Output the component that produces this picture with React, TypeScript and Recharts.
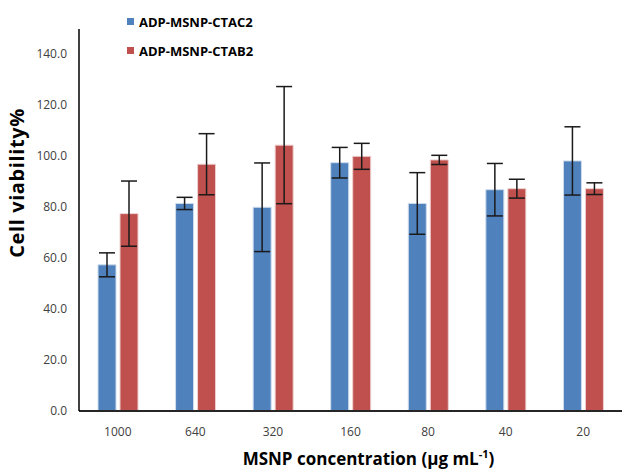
import React from 'react';
import { BarChart, Bar, XAxis, YAxis, ErrorBar, Legend, Label } from 'recharts';

const concentrations = ['1000', '640', '320', '160', '80', '40', '20'];
const ctac2 = [57.4, 81.5, 80.0, 97.5, 81.5, 86.9, 98.2];
const ctac2Err = [4.7, 2.4, 17.4, 6.0, 12.1, 10.3, 13.4];
const ctab2 = [77.5, 96.9, 104.4, 100.0, 98.6, 87.3, 87.3];
const ctab2Err = [12.8, 12.0, 23.0, 5.1, 1.8, 3.7, 2.3];
const yTicks = [0, 20, 40, 60, 80, 100, 120, 140];

const seriesNames = ['ADP-MSNP-CTAC2', 'ADP-MSNP-CTAB2'];
const BLUE = '#4F81BD';
const RED = '#C0504D';
const FONT = '"Open Sans", sans-serif';

const data = concentrations.map((c, i) => ({
  conc: c,
  ctac2: ctac2[i],
  ctac2Err: ctac2Err[i],
  ctab2: ctab2[i],
  ctab2Err: ctab2Err[i],
}));

const XTick = (props: any) => {
  const { x, y, payload } = props;
  return (
    <text x={x} y={y + 17} textAnchor="middle" fontSize={12} fontFamily={FONT} fill="#404040">
      {payload.value}
    </text>
  );
};

const YTick = (props: any) => {
  const { x, y, payload } = props;
  return (
    <text x={x - 4} y={y + 4} textAnchor="end" fontSize={12} fontFamily={FONT} fill="#404040">
      {Number(payload.value).toFixed(1)}
    </text>
  );
};

const YTitle = (props: any) => {
  const vb = props.viewBox || { x: 0, y: 0, width: 0, height: 0 };
  const cx = vb.x + 16;
  const cy = vb.y + vb.height / 2 - 37;
  return (
    <text
      x={cx}
      y={cy}
      transform={`rotate(-90, ${cx}, ${cy})`}
      textAnchor="middle"
      dominantBaseline="central"
      fontSize={20}
      letterSpacing={0.6}
      fontWeight="bold"
      fontFamily={FONT}
      fill="#000"
    >
      Cell viability%
    </text>
  );
};

const XTitle = (props: any) => {
  const vb = props.viewBox || { x: 0, y: 0, width: 0, height: 0 };
  const cx = vb.x + vb.width / 2 + 18;
  const cy = vb.y + 54;
  return (
    <text x={cx} y={cy} textAnchor="middle" fontSize={17} fontWeight="bold" fontFamily={FONT} fill="#000">
      MSNP concentration (μg mL
      <tspan fontSize={11} dy={-7}>-1</tspan>
      <tspan dy={7}>)</tspan>
    </text>
  );
};

const LegendContent = () => (
  <div style={{ fontFamily: FONT, fontWeight: 'bold', fontSize: 13, color: '#000' }}>
    {seriesNames.map((n, i) => (
      <div key={n} style={{ display: 'flex', alignItems: 'center', height: 29 }}>
        <span style={{ display: 'inline-block', width: 7, height: 7, background: i === 0 ? BLUE : RED, marginRight: 5 }} />
        <span>{n}</span>
      </div>
    ))}
  </div>
);

export default function App() {
  return (
    <div style={{ position: 'absolute', left: 0, top: 0, width: 624, height: 471, background: '#fff' }}>
      <BarChart
        width={624}
        height={471}
        data={data}
        margin={{ top: 29, right: 2, left: 0, bottom: 0 }}
        barSize={18}
        barGap={4}
      >
        <XAxis
          dataKey="conc"
          height={60}
          tickLine={false}
          axisLine={{ stroke: '#262626', strokeWidth: 2 }}
          tick={<XTick />}
          interval={0}
        >
          <Label content={<XTitle />} />
        </XAxis>
        <YAxis
          width={79}
          domain={[0, 150]}
          ticks={yTicks}
          tickLine={false}
          axisLine={{ stroke: '#000', strokeWidth: 1.5 }}
          tick={<YTick />}
          interval={0}
          allowDataOverflow
        >
          <Label content={<YTitle />} />
        </YAxis>
        <Legend
          layout="vertical"
          align="center"
          verticalAlign="middle"
          content={<LegendContent />}
          wrapperStyle={{ position: 'absolute', top: 7, left: 127, width: 200 }}
        />
        <Bar dataKey="ctac2" name={seriesNames[0]} fill={BLUE} stroke="#cfdcec" strokeWidth={1} isAnimationActive={false}>
          <ErrorBar dataKey="ctac2Err" width={8} stroke="#1a1a1a" strokeWidth={1.5} />
        </Bar>
        <Bar dataKey="ctab2" name={seriesNames[1]} fill={RED} stroke="#ecd0cf" strokeWidth={1} isAnimationActive={false}>
          <ErrorBar dataKey="ctab2Err" width={8} stroke="#1a1a1a" strokeWidth={1.5} />
        </Bar>
      </BarChart>
    </div>
  );
}
